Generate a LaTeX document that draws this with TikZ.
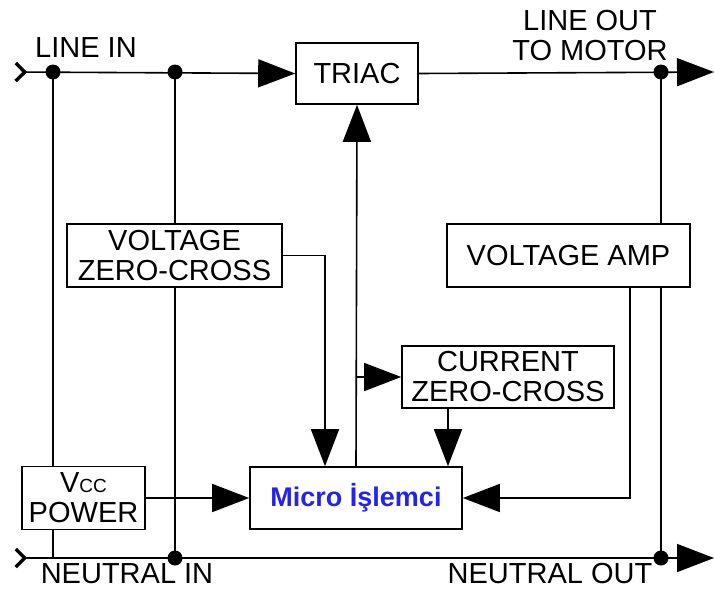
\documentclass[tikz,border=0pt]{standalone}
\usepackage{fontspec}
\setmainfont{Liberation Sans}
\usetikzlibrary{arrows.meta}
\definecolor{mcublue}{RGB}{35,35,235}

\begin{document}
\begin{tikzpicture}[x=1pt, y=-1pt,
    wire/.style={line width=1.6pt},
    blockbox/.style={draw, line width=1.6pt, fill=white, inner sep=0pt, align=center,
        font=\fontsize{29}{30}\selectfont},
    lbl/.style={align=center, inner sep=0pt, font=\fontsize{29}{30}\selectfont},
    feed/.style={wire, -{Triangle[length=37pt,width=28pt]}},
    inlet/.style={wire, {Straight Barb[reversed,length=9pt,width=18pt,line width=3.5pt]}-{Triangle[length=37pt,width=28pt]}}]
    \useasboundingbox[fill=white] (0,0) rectangle (714,589);

    % blocks
    \node[blockbox, minimum width=122pt, minimum height=61pt] (triac) at (357,73.5) {TRIAC};
    \node[blockbox, minimum width=215pt, minimum height=63pt] (vzc) at (174.5,255.5) {VOLTAGE\\ZERO-CROSS};
    \node[blockbox, minimum width=243pt, minimum height=63pt] (vamp) at (568.5,255.5) {VOLTAGE AMP};
    \node[blockbox, minimum width=212pt, minimum height=62pt] (czc) at (508,377) {CURRENT\\ZERO-CROSS};
    \node[blockbox, minimum width=123pt, minimum height=63pt] (vcc) at (83.5,498)
        {V{\fontsize{19}{19}\selectfont CC}\\POWER};
    \node[blockbox, minimum width=212pt, minimum height=62pt, font=\fontsize{27}{28}\selectfont\bfseries,
        text=mcublue] (mcu) at (356,498) {Micro İşlemci};

    % junctions and ends
    \coordinate (linein) at (14,72);
    \coordinate (j1) at (53,72);
    \coordinate (j2) at (175,72);
    \coordinate (j3) at (661,72);
    \coordinate (lineout) at (714,72);
    \coordinate (neutralin) at (14,558);
    \coordinate (n2) at (175,558);
    \coordinate (n3) at (661,558);
    \coordinate (neutralout) at (714,558);
    \coordinate (m1) at (325,0);
    \coordinate (m2) at (448,0);
    \coordinate (a1) at (630,0);
    \coordinate (b1) at (356,377);

    % mains lines
    \draw[inlet] (linein) -- (triac.west);
    \draw[feed] (triac.east) -- (lineout);
    \draw[inlet] (neutralin) -- (neutralout);

    % drops
    \draw[wire] (j1) -- (j1 |- vcc.north);
    \draw[wire] (j1 |- vcc.south) -- (j1 |- neutralin);
    \draw[wire] (j2) -- (j2 |- vzc.north);
    \draw[wire] (j2 |- vzc.south) -- (n2);
    \draw[wire] (j3) -- (j3 |- vamp.north);
    \draw[wire] (j3 |- vamp.south) -- (n3);

    % signals
    \draw[feed] (vzc.east) -| (m1 |- mcu.north);
    \draw[feed] (mcu.north) -- (triac.south);
    \draw[feed] (b1 -| mcu.north) -- (czc.west);
    \draw[feed] (m2 |- czc.south) -- (m2 |- mcu.north);
    \draw[feed] (a1 |- vamp.south) |- (mcu.east);
    \draw[feed] (vcc.east) -- (mcu.west);

    \foreach \p in {j1,j2,j3,n2,n3}
        \fill (\p) circle (7.5pt);

    % labels
    \node[lbl] (lin) at (86,48) {LINE IN};
    \node[lbl] (lout) at (590,36) {LINE OUT\\TO MOTOR};
    \node[lbl] (nin) at (127,574) {NEUTRAL IN};
    \node[lbl] (nout) at (550,574) {NEUTRAL OUT};
\end{tikzpicture}
\end{document}
